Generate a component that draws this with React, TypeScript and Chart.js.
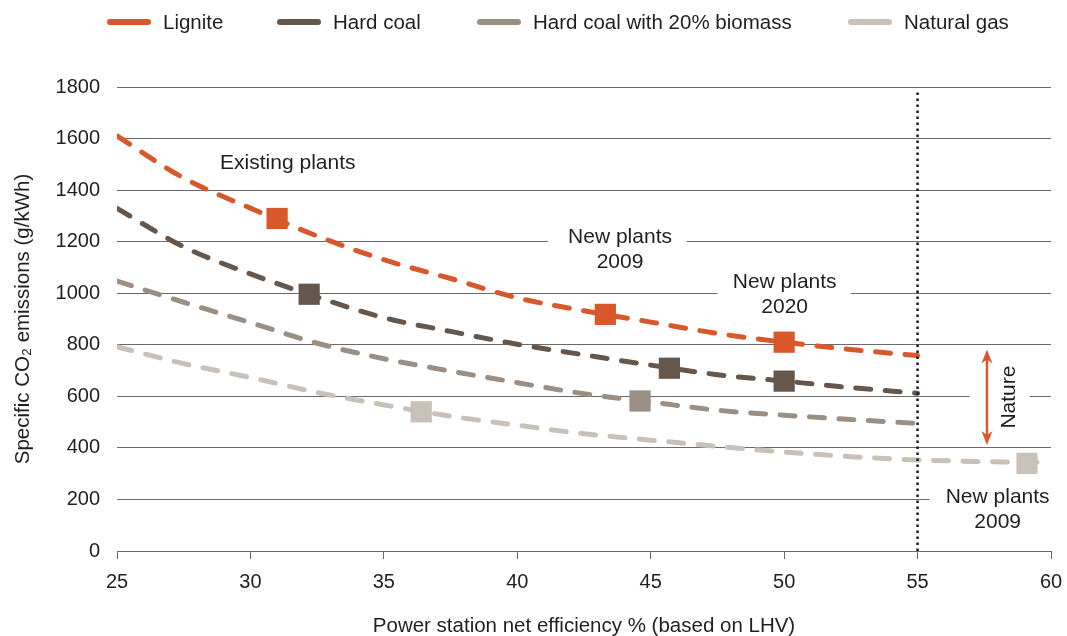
import React, { useEffect, useRef } from "react";
import { Chart, registerables } from "chart.js";

Chart.register(...registerables);

const FONT = '"Liberation Sans", Arial, Helvetica, sans-serif';
const TEXT = "#1f1f1f";
const GRID = "#6a6a6a";

const seriesNames = ["Lignite", "Hard coal", "Hard coal with 20% biomass", "Natural gas"];
const seriesColors = ["#D9582B", "#65574B", "#9B8E83", "#C9C0B8"];

// efficiency (%) sample points
const effCoal = [25, 27.5, 30, 32.5, 35, 37.5, 40, 42.5, 45, 47.5, 50, 52.5, 55];
const co2Lignite = [1610, 1447, 1330, 1222, 1130, 1057, 982, 932, 888, 844, 810, 782, 758];
const co2HardCoal = [1329, 1180, 1075, 985, 905, 852, 802, 761, 721, 684, 659, 634, 612];
const co2Biomass = [1047, 965, 886, 806, 746, 698, 653, 610, 578, 546, 527, 510, 495];
const effGas = [25, 27.5, 30, 32.5, 35, 37.5, 40, 42.5, 45, 47.5, 50, 52.5, 55, 57.5, 60];
const co2Gas = [792, 727, 673, 615, 567, 523, 488, 455, 430, 406, 384, 366, 353, 347, 343];

// plant markers
const markLigniteX = [31, 43.3, 50];
const markLigniteY = [1290, 918, 810];
const markHardCoalX = [32.2, 45.7, 50];
const markHardCoalY = [996, 709, 659];
const markBiomassX = [44.6];
const markBiomassY = [582];
const markGasX = [36.4, 59.1];
const markGasY = [540, 340];

const xTicksMin = 25;
const xTicksMax = 60;
const xStep = 5;
const yMin = 0;
const yMax = 1800;
const yStep = 200;

const limitEff = 55;
const limitTop = 1785;

const arrowX = 57.6;
const arrowFrom = 411;
const arrowTo = 782;

const annotations = [
  { lines: ["Existing plants"], x: 31.4, y: 1505, rotate: false },
  { lines: ["New plants", "2009"], x: 43.85, y: 1170, rotate: false },
  { lines: ["New plants", "2020"], x: 50.02, y: 995, rotate: false },
  { lines: ["Nature"], x: 58.45, y: 597, rotate: true },
  { lines: ["New plants", "2009"], x: 58.0, y: 161, rotate: false },
];

// white backgrounds behind labels: [x0, x1, y0, y1]
const labelBoxes = [
  [41.15, 46.35, 1080, 1260],
  [47.5, 52.5, 900, 1090],
  [56.95, 59.2, 440, 760],
  [55.45, 61, 80, 245],
];

const legendTextX = [163, 333, 533, 904];

const pts = (xs: number[], ys: number[]) => xs.map((x, i) => ({ x, y: ys[i] }));

const chartPlugin = {
  id: "extras",
  beforeDatasetsDraw(chart: any) {
    const { ctx, scales } = chart;
    const sx = scales.x, sy = scales.y;
    ctx.save();
    ctx.fillStyle = "#ffffff";
    for (const b of labelBoxes) {
      const x0 = sx.getPixelForValue(b[0]);
      const x1 = sx.getPixelForValue(b[1]);
      const y0 = sy.getPixelForValue(b[2]);
      const y1 = sy.getPixelForValue(b[3]);
      ctx.fillRect(x0, y1, x1 - x0, y0 - y1);
    }
    ctx.restore();
  },
  afterDatasetsDraw(chart: any) {
    const { ctx, scales } = chart;
    const sx = scales.x, sy = scales.y;
    ctx.save();
    // arrow
    const ax = sx.getPixelForValue(arrowX);
    const ay0 = sy.getPixelForValue(arrowFrom);
    const ay1 = sy.getPixelForValue(arrowTo);
    ctx.strokeStyle = seriesColors[0];
    ctx.fillStyle = seriesColors[0];
    ctx.lineWidth = 2.5;
    ctx.beginPath();
    ctx.moveTo(ax, ay0 - 8);
    ctx.lineTo(ax, ay1 + 8);
    ctx.stroke();
    const head = 14, hw = 5.5;
    ctx.beginPath();
    ctx.moveTo(ax, ay1);
    ctx.lineTo(ax - hw, ay1 + head);
    ctx.lineTo(ax, ay1 + head - 4);
    ctx.lineTo(ax + hw, ay1 + head);
    ctx.closePath();
    ctx.fill();
    ctx.beginPath();
    ctx.moveTo(ax, ay0);
    ctx.lineTo(ax - hw, ay0 - head);
    ctx.lineTo(ax, ay0 - head + 4);
    ctx.lineTo(ax + hw, ay0 - head);
    ctx.closePath();
    ctx.fill();

    // annotation texts
    ctx.fillStyle = TEXT;
    ctx.font = `21px ${FONT}`;
    ctx.textAlign = "center";
    ctx.textBaseline = "middle";
    const lh = 25;
    for (const a of annotations) {
      const px = sx.getPixelForValue(a.x);
      const py = sy.getPixelForValue(a.y);
      if (a.rotate) {
        ctx.save();
        ctx.translate(px, py);
        ctx.rotate(-Math.PI / 2);
        ctx.fillText(a.lines[0], 0, 0);
        ctx.restore();
      } else {
        const n = a.lines.length;
        a.lines.forEach((t, i) => {
          ctx.fillText(t, px, py + (i - (n - 1) / 2) * lh);
        });
      }
    }
    ctx.restore();
  },
  afterDraw(chart: any) {
    const { ctx } = chart;
    ctx.save();
    const ly = 22;
    ctx.font = `20.5px ${FONT}`;
    ctx.textBaseline = "middle";
    ctx.textAlign = "left";
    seriesNames.forEach((name, i) => {
      const tx = legendTextX[i];
      ctx.strokeStyle = seriesColors[i];
      ctx.lineWidth = 6;
      ctx.lineCap = "round";
      ctx.beginPath();
      ctx.moveTo(tx - 53, ly);
      ctx.lineTo(tx - 15, ly);
      ctx.stroke();
      ctx.fillStyle = TEXT;
      ctx.fillText(name, tx, ly + 1);
    });
    ctx.restore();
  },
};

export default function App() {
  const ref = useRef<HTMLCanvasElement | null>(null);

  useEffect(() => {
    if (!ref.current) return;
    const dashed = (i: number, data: any[]) => ({
      type: "line" as const,
      label: seriesNames[i],
      data,
      borderColor: seriesColors[i],
      backgroundColor: seriesColors[i],
      borderWidth: 5,
      borderDash: [15, 14.5],
      borderCapStyle: "round" as const,
      pointRadius: 0,
      cubicInterpolationMode: "monotone" as const,
      fill: false,
      order: 3,
    });
    const markers = (i: number, data: any[]) => ({
      type: "scatter" as const,
      label: seriesNames[i] + " plants",
      data,
      backgroundColor: seriesColors[i],
      borderColor: seriesColors[i],
      borderWidth: 0,
      pointStyle: "rect" as const,
      pointRadius: 15,
      showLine: false,
      order: 1,
    });
    const chart = new Chart(ref.current, {
      type: "line",
      data: {
        datasets: [
          dashed(0, pts(effCoal, co2Lignite)),
          dashed(1, pts(effCoal, co2HardCoal)),
          dashed(2, pts(effCoal, co2Biomass)),
          dashed(3, pts(effGas, co2Gas)),
          markers(0, pts(markLigniteX, markLigniteY)),
          markers(1, pts(markHardCoalX, markHardCoalY)),
          markers(2, pts(markBiomassX, markBiomassY)),
          markers(3, pts(markGasX, markGasY)),
          {
            type: "line",
            label: "limit",
            data: [
              { x: limitEff, y: yMin },
              { x: limitEff, y: limitTop },
            ],
            borderColor: "#1a1a1a",
            borderWidth: 2.5,
            borderDash: [2.5, 3.5],
            pointRadius: 0,
            order: 2,
          } as any,
        ],
      },
      options: {
        responsive: false,
        animation: false,
        layout: { padding: { top: 87, right: 16, left: 0, bottom: 0 } },
        plugins: {
          legend: { display: false },
          tooltip: { enabled: false },
        },
        scales: {
          x: {
            type: "linear",
            min: xTicksMin,
            max: xTicksMax,
            ticks: {
              stepSize: xStep,
              color: TEXT,
              font: { family: FONT, size: 20 },
              padding: 11,
              callback: (v: any) => String(v),
            },
            grid: {
              drawOnChartArea: false,
              drawTicks: true,
              tickLength: 8,
              color: GRID,
              lineWidth: 1,
            },
            border: { display: true, color: GRID, width: 1 },
            title: {
              display: true,
              text: "Power station net efficiency % (based on LHV)",
              color: TEXT,
              font: { family: FONT, size: 20.5 },
              padding: { top: 0, bottom: -3 },
            },
            afterFit: (s: any) => {
              s.height = 85;
              s.paddingRight = 0;
              s.paddingLeft = 0;
            },
          },
          y: {
            min: yMin,
            max: yMax,
            ticks: {
              stepSize: yStep,
              color: TEXT,
              font: { family: FONT, size: 20 },
              padding: 17,
              callback: (v: any) => String(v),
            },
            grid: {
              drawTicks: false,
              color: GRID,
              lineWidth: 1,
            },
            border: { display: false },
            title: {
              display: true,
              text: "Specific CO₂ emissions (g/kWh)",
              color: TEXT,
              font: { family: FONT, size: 20.5 },
              padding: { top: 11, bottom: 0 },
            },
            afterFit: (s: any) => {
              s.width = 117;
            },
          },
        },
      },
      plugins: [chartPlugin],
    });
    return () => chart.destroy();
  }, []);

  return (
    <div style={{ position: "fixed", left: 0, top: 0, width: 1067, height: 636, background: "#fff" }}>
      <canvas ref={ref} width={1067} height={636} style={{ display: "block", width: 1067, height: 636 }} />
    </div>
  );
}
